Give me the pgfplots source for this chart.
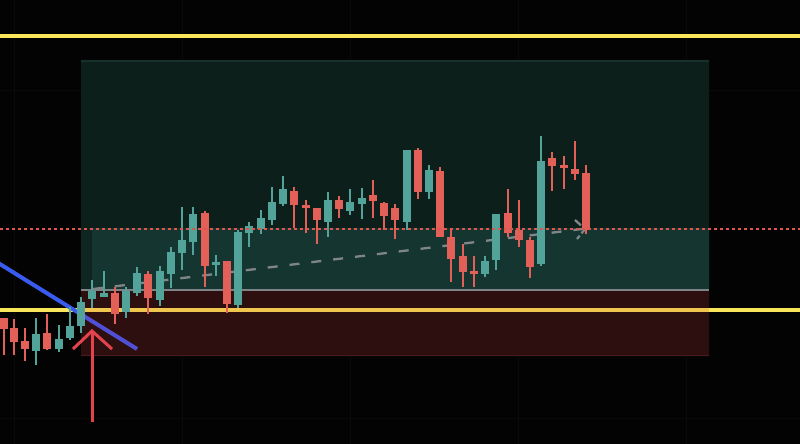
\documentclass[border=0pt]{standalone}
\usepackage{pgfplots}
\usepackage{pgfplotstable}
\pgfplotsset{compat=1.18}
\definecolor{bgblack}{HTML}{030303}
\definecolor{gridc}{HTML}{0A0A0A}
\definecolor{yel}{HTML}{F9E65A}
\definecolor{yeltwo}{HTML}{F0C64E}
\definecolor{zonetop}{HTML}{0C1F1B}
\definecolor{zonelow}{HTML}{153530}
\definecolor{zoneleft}{HTML}{0F2521}
\definecolor{zoneedge}{HTML}{163129}
\definecolor{redzone}{HTML}{2E0F10}
\definecolor{redzoneedge}{HTML}{4A1A1C}
\definecolor{grayline}{HTML}{7E8387}
\definecolor{cgreen}{HTML}{52A49A}
\definecolor{cred}{HTML}{E26058}
\definecolor{dotc}{HTML}{E0554E}
\definecolor{bluea}{HTML}{3A5BEF}
\definecolor{blueb}{HTML}{5050D6}
\definecolor{arrowc}{HTML}{E4434E}
\definecolor{trendc}{HTML}{7F8589}

% pixel coordinates: x, body top, body bottom, wick high, wick low
\pgfplotstableread{
x bt bb hi lo
36 334 351 318 365
59 339 349 325 352
70 326 338 307 340
81 302 326 297 333
92 291 299 280 308
104 293 297 271 297
126 291 312 287 318
137 273 293 267 296
160 271 300 266 306
171 252 274 247 288
182 240 253 207 270
193 214 242 207 255
216 262 264.5 255 276
238 232 305 230 308
249 226 233 222 247
261 218 229 210 234
272 202 220 187 225
283 189 204 176 206
328 200 222 192 237
350 202 211 189 215
362 198 204 188 219
407 150 222 150 230
429 170 192 165 199
485 261 274 256 277
496 214 260 214 270
541 161 264 136 266
}\greentab

\pgfplotstableread{
x bt bb hi lo
3.5 318 329 318 355
14 328 342 319 355
25 341 349 328 361
47 333 349 314 350
115 293 314 287 324
148 274 298 271 314
205 213 266 211 287
227 261 304 261 313
294 191 205 187 228
306 205 207.5 200 233
317 208 220 208 244
339 200 209 196 218
373 195 201 180 218
384 203 216 202 230
395 208 220 204 239
418 150 192 148 199
440 171 237 167 237
451 237 259 228 282
463 256 272 244 287
474 271 274 256 287
508 213 233 189 237
519 230 240 200 247
530 240 267 237 278
552 158 166 152 191
564 165 168 156 189
575 169 174 141 180
586 173 230 165 234
}\redtab

\begin{document}
\begin{tikzpicture}
\begin{axis}[
  width=800pt, height=444pt, scale only axis,
  xmin=0, xmax=800, ymin=0, ymax=444, y dir=reverse,
  hide axis,
]
% background
\addplot[fill=bgblack, draw=none] coordinates {(0,0)(800,0)(800,444)(0,444)(0,0)};
% faint grid
\addplot[gridc, line width=1pt] coordinates {(14,0)(14,444)};
\addplot[gridc, line width=1pt] coordinates {(182,0)(182,444)};
\addplot[gridc, line width=1pt] coordinates {(350,0)(350,444)};
\addplot[gridc, line width=1pt] coordinates {(518,0)(518,444)};
\addplot[gridc, line width=1pt] coordinates {(686,0)(686,444)};
\addplot[gridc, line width=1pt] coordinates {(0,90)(800,90)};
\addplot[gridc, line width=1pt] coordinates {(0,418)(800,418)};
% top yellow line
\addplot[yel, line width=4pt] coordinates {(0,36)(800,36)};
% zones
\addplot[fill=zonetop, draw=none] coordinates {(81,60)(709,60)(709,289)(81,289)(81,60)};
\addplot[zoneedge, line width=1.5pt] coordinates {(81,61)(709,61)};
\addplot[fill=zonelow, draw=none] coordinates {(92,228)(709,228)(709,289)(92,289)(92,228)};
\addplot[fill=zoneleft, draw=none] coordinates {(81,228)(92,228)(92,289)(81,289)(81,228)};
\addplot[fill=redzone, draw=none] coordinates {(81,290)(709,290)(709,356)(81,356)(81,290)};
\addplot[redzoneedge, line width=1.5pt] coordinates {(81,355.5)(709,355.5)};
\addplot[grayline, line width=2pt] coordinates {(81,289.5)(709,289.5)};
% bottom yellow line
\addplot[yel, line width=4pt] coordinates {(0,310)(81,310)};
\addplot[yeltwo, line width=4pt] coordinates {(81,310)(709,310)};
\addplot[yel, line width=4pt] coordinates {(709,310)(800,310)};
% blue line
\addplot[bluea, line width=4pt] coordinates {(-5,261)(81,314.3)};
\addplot[blueb, line width=4pt] coordinates {(81,314.3)(137,349)};
% gray dashed trend with open arrow head
\addplot[trendc, line width=2.3pt, dash pattern=on 10pt off 12pt] coordinates {(93,289)(582,229)};
\addplot[trendc, line width=2.3pt, dash pattern=on 8pt off 3pt] coordinates {(575,220)(585,229)(577,239)};
% candles: wicks
\addplot[draw=none, mark=none, error bars/.cd, y dir=plus, y explicit, error mark=none,
  error bar style={draw=cgreen, solid, line width=2pt}]
  table[x=x, y=hi, y error expr=\thisrow{lo}-\thisrow{hi}] {\greentab};
\addplot[draw=none, mark=none, error bars/.cd, y dir=plus, y explicit, error mark=none,
  error bar style={draw=cred, solid, line width=2pt}]
  table[x=x, y=hi, y error expr=\thisrow{lo}-\thisrow{hi}] {\redtab};
% candles: bodies
\addplot[draw=none, mark=none, error bars/.cd, y dir=plus, y explicit, error mark=none,
  error bar style={draw=cgreen, solid, line width=8pt}]
  table[x=x, y=bt, y error expr=\thisrow{bb}-\thisrow{bt}] {\greentab};
\addplot[draw=none, mark=none, error bars/.cd, y dir=plus, y explicit, error mark=none,
  error bar style={draw=cred, solid, line width=8pt}]
  table[x=x, y=bt, y error expr=\thisrow{bb}-\thisrow{bt}] {\redtab};
% red dotted level
\addplot[dotc, line width=2pt, dash pattern=on 2.5pt off 3.5pt] coordinates {(0,228.5)(800,228.5)};
% red arrow
\addplot[arrowc, line width=3pt] coordinates {(92,422)(92,331)};
\addplot[arrowc, line width=3pt, line join=miter] coordinates {(73,349)(92,331)(112,349)};
\end{axis}
\end{tikzpicture}
\end{document}
